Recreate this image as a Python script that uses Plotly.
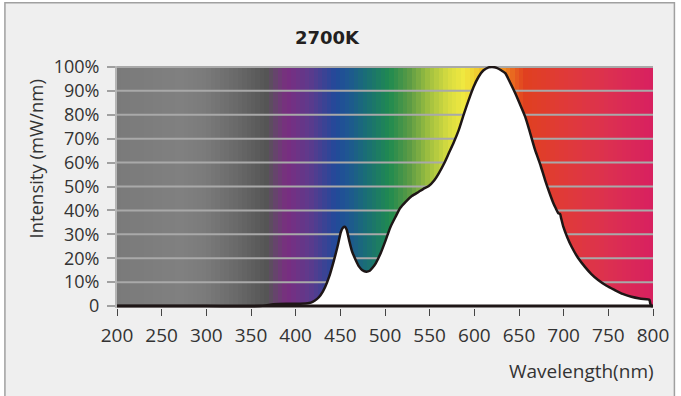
import plotly.graph_objects as go
import numpy as np

# ---- data ----
wavelength = [200, 300, 360, 367, 375, 390, 405, 415, 419, 424, 428, 433, 437.5, 442, 446.8,
              450.6, 453, 455, 457, 459.8, 463, 467.3, 471, 474.7, 479, 483, 486, 489.6, 495,
              500.8, 506, 511.9, 517, 523.1, 530, 537.9, 543, 549, 555, 560.2, 566, 571.4, 577,
              582.5, 588, 593.7, 599, 604.8, 610, 616, 620, 625, 630, 634.6, 640, 645.8, 651,
              656.9, 662, 668, 674, 679.2, 684, 688.5, 691, 694.1, 696, 697, 699.6, 704, 708.9,
              716, 723.8, 731, 738.6, 748, 757.3, 766, 775.8, 785, 794.4, 796, 797, 798, 800]
intensity = [0, 0, 0, 0.3, 0.8, 1.0, 1.0, 1.3, 1.8, 3, 4.6, 8, 12.3, 18, 24.8,
             31, 32.8, 33.2, 32, 27.6, 23, 19.2, 16.5, 15, 14.4, 14.8, 16, 17.9, 22,
             27.6, 33, 37.4, 41, 43.6, 46, 47.8, 49, 50.2, 52.5, 55.5, 59.5, 63.9, 68.5,
             73.6, 80, 86.2, 91.5, 95.9, 98.5, 99.8, 100, 99.6, 98.6, 97.4, 93.5, 89, 84.5,
             79.2, 73, 65.3, 59, 52.7, 47.5, 43, 41, 38.8, 38.5, 37, 33.2, 28.8, 24.8,
             20.2, 16.4, 13.4, 10.9, 8.5, 6.7, 5.1, 3.9, 3.2, 2.8, 2.6, 1, 0, 0]

x_ticks = [200, 250, 300, 350, 400, 450, 500, 550, 600, 650, 700, 750, 800]
y_ticks = [0, 10, 20, 30, 40, 50, 60, 70, 80, 90, 100]
y_tick_labels = ["0", "10%", "20%", "30%", "40%", "50%", "60%", "70%", "80%", "90%", "100%"]

# background spectrum gradient stops
grad_wl = [200, 270, 300, 340, 368, 380, 390, 415, 445, 460, 475, 505, 527, 549, 571, 588,
           600, 610, 627, 645, 657, 700, 750, 800]
grad_colors = ["#7a7a7a", "#808080", "#7a7a7a", "#666666", "#555555", "#6a3f72", "#7a2d80",
               "#5e3a8c", "#22499a", "#1e5890", "#1a6a7a", "#1f8a50", "#5a9a45", "#a0c040",
               "#d8dc40", "#f0e840", "#f0d232", "#f0b828", "#f0a020", "#e86020", "#e04020",
               "#e03a38", "#dc3050", "#d82060"]

# ---- figure ----
fig = go.Figure()

cell_edges = np.arange(200, 805, 5)
cell_centers = (cell_edges[:-1] + cell_edges[1:]) / 2
colorscale = [[(w - 200) / 600, c] for w, c in zip(grad_wl, grad_colors)]
fig.add_trace(go.Heatmap(
    x=cell_edges, y=[0, 100], z=[cell_centers],
    colorscale=colorscale, zmin=200, zmax=800, zsmooth=False,
    showscale=False, hoverinfo="skip"))

# grid lines over the gradient
gx, gy = [], []
for v in y_ticks[1:]:
    gx += [200, 800, None]
    gy += [v, v, None]
fig.add_trace(go.Scatter(x=gx, y=gy, mode="lines",
                         line=dict(color="#a9a9a9", width=2), hoverinfo="skip"))

# spectrum
fig.add_trace(go.Scatter(x=wavelength, y=intensity, mode="lines", fill="tozeroy",
                         fillcolor="white", line=dict(color="#1e1616", width=2.5, shape="spline", smoothing=0.6),
                         hoverinfo="skip"))
# baseline
fig.add_trace(go.Scatter(x=[200, 800], y=[0, 0], mode="lines",
                         line=dict(color="#1e1616", width=3), hoverinfo="skip"))

font_family = "Open Sans"
fig.update_layout(
    width=681, height=396,
    margin=dict(l=117, r=26, t=66, b=88),
    paper_bgcolor="white",
    plot_bgcolor="#efefef",
    showlegend=False,
    font=dict(family=font_family, size=18, color="#333333"),
    xaxis=dict(range=[200, 800], tickvals=x_ticks, ticks="outside", ticklen=7,
               tickcolor="#444444", tickwidth=1, showgrid=False, zeroline=False,
               showline=False, tickfont=dict(size=19, color="#333333"),
               ticklabelstandoff=3, fixedrange=True),
    yaxis=dict(range=[-0.8, 100.4], tickvals=y_ticks, ticktext=y_tick_labels,
               ticks="outside", ticklen=8, tickcolor="#a0a0a0", tickwidth=2,
               showgrid=False, zeroline=False, showline=True, linecolor="#b5b5b5",
               linewidth=2, tickfont=dict(size=18, color="#333333"),
               ticklabelstandoff=4, fixedrange=True),
    shapes=[dict(type="rect", xref="paper", yref="paper",
                 x0=(4.5 - 117) / 538, x1=(676.5 - 117) / 538,
                 y0=(306 - 400) / 239, y1=(306 - 4.5) / 239,
                 fillcolor="#efefef", line=dict(color="#a0a0a0", width=1.5),
                 layer="below")],
    annotations=[
        dict(text="<b>2700K</b>", xref="paper", yref="paper",
             x=(328 - 117) / 538, y=(306 - 39) / 239, showarrow=False,
             xanchor="center", yanchor="middle",
             font=dict(family="DejaVu Sans", size=18, color="#231f20")),
        dict(text="Wavelength(nm)", xref="paper", yref="paper",
             x=(658 - 117) / 538, y=(306 - 368) / 239, showarrow=False,
             xanchor="right", yanchor="middle",
             font=dict(family=font_family, size=19, color="#333333")),
        dict(text="Intensity (mW/nm)", xref="paper", yref="paper",
             x=(35 - 117) / 538, y=(306 - 159) / 239, showarrow=False,
             textangle=-90, xanchor="center", yanchor="middle",
             font=dict(family=font_family, size=18.5, color="#333333")),
    ],
)

fig.write_html("out.html")
